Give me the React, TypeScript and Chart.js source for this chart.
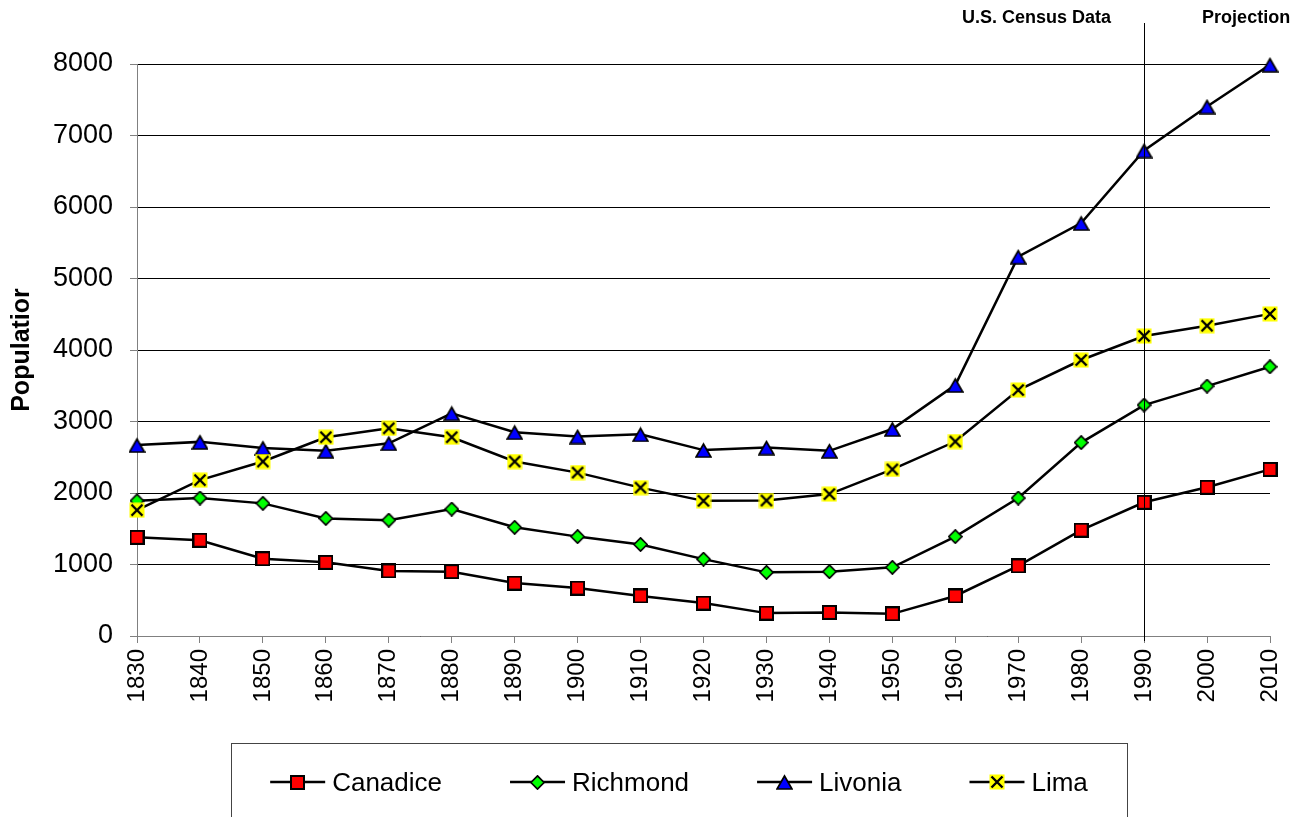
import React, { useEffect, useRef } from 'react';
import { Chart, registerables } from 'chart.js';

Chart.register(...registerables);

const years = ['1830', '1840', '1850', '1860', '1870', '1880', '1890', '1900', '1910', '1920', '1930', '1940', '1950', '1960', '1970', '1980', '1990', '2000', '2010'];
const canadice = [1380, 1340, 1080, 1030, 910, 900, 740, 670, 560, 460, 320, 330, 310, 560, 980, 1480, 1870, 2080, 2330];
const richmond = [1890, 1930, 1855, 1645, 1620, 1775, 1520, 1390, 1280, 1075, 890, 900, 960, 1390, 1930, 2705, 3230, 3495, 3765];
const livonia = [2670, 2715, 2630, 2590, 2695, 3115, 2850, 2790, 2820, 2600, 2635, 2590, 2895, 3510, 5305, 5775, 6790, 7405, 7990];
const lima = [1760, 2180, 2440, 2780, 2905, 2780, 2440, 2285, 2075, 1890, 1895, 1985, 2330, 2720, 3440, 3860, 4195, 4340, 4505];
const seriesNames = ['Canadice', 'Richmond', 'Livonia', 'Lima'];
const yMin = 0;
const yMax = 8000;
const yStep = 1000;
const yAxisTitle = 'Populatior';
const projectionStartYear = '1990';
const censusLabel = 'U.S. Census Data';
const projectionLabel = 'Projection';

const FONT = 'Arial, "Liberation Sans", sans-serif';

function makeMarker(kind: string): HTMLCanvasElement {
  const c = document.createElement('canvas');
  const ctx = c.getContext('2d')!;
  if (kind === 'square') {
    c.width = 15; c.height = 15;
    ctx.fillStyle = '#ff0000';
    ctx.fillRect(1, 1, 13, 13);
    ctx.strokeStyle = '#000';
    ctx.lineWidth = 2;
    ctx.strokeRect(1, 1, 13, 13);
  } else if (kind === 'diamond') {
    c.width = 15; c.height = 15;
    ctx.beginPath();
    ctx.moveTo(7.5, 0.9); ctx.lineTo(14.1, 7.5); ctx.lineTo(7.5, 14.1); ctx.lineTo(0.9, 7.5); ctx.closePath();
    ctx.fillStyle = '#00ff00';
    ctx.fill();
    ctx.strokeStyle = '#000';
    ctx.lineWidth = 1.7;
    ctx.stroke();
  } else if (kind === 'triangle') {
    c.width = 17; c.height = 16;
    ctx.beginPath();
    ctx.moveTo(8.5, 2); ctx.lineTo(16, 15); ctx.lineTo(1, 15); ctx.closePath();
    ctx.fillStyle = '#0000ff';
    ctx.fill();
    ctx.strokeStyle = '#000';
    ctx.lineWidth = 1.7;
    ctx.stroke();
  } else {
    c.width = 16; c.height = 16;
    ctx.fillStyle = '#ffff00';
    ctx.fillRect(0.5, 0.5, 15, 15);
    ctx.strokeStyle = '#000';
    ctx.lineWidth = 2.4;
    ctx.beginPath();
    ctx.moveTo(2.5, 2.5); ctx.lineTo(13.5, 13.5);
    ctx.moveTo(13.5, 2.5); ctx.lineTo(2.5, 13.5);
    ctx.stroke();
  }
  return c;
}

export default function App() {
  const ref = useRef<HTMLCanvasElement | null>(null);

  useEffect(() => {
    if (!ref.current) return;
    const markers = [makeMarker('square'), makeMarker('diamond'), makeMarker('triangle'), makeMarker('x')];
    const values = [canadice, richmond, livonia, lima];

    const overlayPlugin = {
      id: 'overlay',
      afterDatasetsDraw(chart: any) {
        const ctx = chart.ctx as CanvasRenderingContext2D;
        const xs = chart.scales.x;
        const x = xs.getPixelForValue(years.indexOf(projectionStartYear));
        const bottom = chart.chartArea.bottom;
        ctx.save();
        ctx.strokeStyle = '#000';
        ctx.lineWidth = 1;
        const px = Math.round(x) + 0.5;
        ctx.beginPath();
        ctx.moveTo(px, 23);
        ctx.lineTo(px, bottom + 5);
        ctx.stroke();
        ctx.font = 'bold 18px ' + FONT;
        ctx.fillStyle = '#000';
        ctx.textBaseline = 'middle';
        ctx.textAlign = 'right';
        ctx.fillText(censusLabel, x - 33, 18);
        ctx.textAlign = 'left';
        ctx.fillText(projectionLabel, x + 58, 18);
        ctx.restore();
      },
      afterDraw(chart: any) {
        const ctx = chart.ctx as CanvasRenderingContext2D;
        ctx.save();
        ctx.strokeStyle = '#444';
        ctx.lineWidth = 1;
        ctx.strokeRect(231.5, 743.5, 896, 120);
        ctx.font = '26px ' + FONT;
        const lineLen = 55;
        const gapText = 7;
        const gapItem = 68;
        const widths = seriesNames.map((n) => lineLen + gapText + ctx.measureText(n).width);
        const total = widths.reduce((a, b) => a + b, 0) + gapItem * (seriesNames.length - 1);
        let sx = 679 - total / 2;
        const ly = 782;
        seriesNames.forEach((name, i) => {
          ctx.strokeStyle = '#000';
          ctx.lineWidth = 2.5;
          ctx.beginPath();
          ctx.moveTo(sx, ly);
          ctx.lineTo(sx + lineLen, ly);
          ctx.stroke();
          const m = markers[i];
          ctx.drawImage(m, Math.round(sx + lineLen / 2 - m.width / 2), Math.round(ly - m.height / 2));
          ctx.fillStyle = '#000';
          ctx.textAlign = 'left';
          ctx.textBaseline = 'middle';
          ctx.fillText(name, sx + lineLen + gapText, ly + 2);
          sx += widths[i] + gapItem;
        });
        ctx.restore();
      },
    };

    const chart = new Chart(ref.current, {
      type: 'line',
      data: {
        labels: years,
        datasets: seriesNames.map((name, i) => ({
          label: name,
          data: values[i],
          borderColor: '#000',
          backgroundColor: '#000',
          borderWidth: 2.5,
          pointStyle: markers[i] as any,
          pointRadius: 7,
          pointHoverRadius: 7,
          tension: 0,
          fill: false,
          clip: false as any,
          order: seriesNames.length - i,
        })),
      },
      options: {
        responsive: false,
        animation: false,
        events: [],
        layout: { padding: { left: 0, top: 64, right: 21, bottom: 0 } },
        plugins: {
          legend: { display: false },
          tooltip: { enabled: false },
        },
        scales: {
          x: {
            type: 'category',
            offset: false,
            grid: {
              display: true,
              drawOnChartArea: false,
              drawTicks: true,
              tickLength: 7,
              tickColor: '#808080',
            },
            border: { display: true, color: '#808080', width: 1 },
            ticks: {
              autoSkip: false,
              minRotation: 90,
              maxRotation: 90,
              padding: 6,
              color: '#000',
              font: { family: FONT, size: 24 },
            },
            afterFit(scale: any) {
              scale.height = 181;
              scale.paddingLeft = 0;
              scale.paddingRight = 0;
            },
          },
          y: {
            min: yMin,
            max: yMax,
            grid: {
              color: '#000',
              lineWidth: 1,
              drawTicks: true,
              tickLength: 7,
              tickColor: '#808080',
            },
            border: { display: true, color: '#808080', width: 1 },
            ticks: {
              stepSize: yStep,
              padding: 17,
              color: '#000',
              font: { family: FONT, size: 27 },
              callback: (v: any) => String(v),
            },
            title: {
              display: true,
              text: yAxisTitle,
              color: '#000',
              font: { family: FONT, size: 25, weight: 'bold' },
              padding: { top: 7, bottom: 0 },
            },
            afterFit(scale: any) {
              scale.width = 137;
              scale.paddingTop = 0;
              scale.paddingBottom = 0;
            },
          },
        },
      },
      plugins: [overlayPlugin],
    });

    return () => chart.destroy();
  }, []);

  return (
    <canvas
      ref={ref}
      width={1291}
      height={817}
      style={{ position: 'fixed', left: 0, top: 0, width: 1291, height: 817, background: '#fff' }}
    />
  );
}
